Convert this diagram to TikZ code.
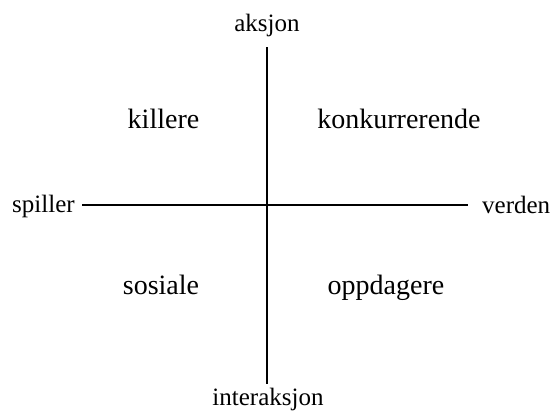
\documentclass[tikz,border=0pt]{standalone}
\usepackage{fontspec}
\setmainfont{Liberation Serif}
\begin{document}
\begin{tikzpicture}[x=1bp,y=-1bp,
  axislabel/.style={inner sep=0pt,font=\fontsize{25bp}{27bp}\selectfont},
  quadlabel/.style={inner sep=0pt,font=\fontsize{28bp}{30bp}\selectfont},
  axisline/.style={line width=1.3bp,black}]
\useasboundingbox (0,0) rectangle (553,412);
\coordinate (top) at (267,47);
\coordinate (bottom) at (267,384);
\coordinate (left) at (82,205);
\coordinate (right) at (468,205);
\draw[axisline] (top) -- (bottom);
\draw[axisline] (left) -- (right);
\node[axislabel,anchor=base] (aksjon) at (267,31) {aksjon};
\node[axislabel,anchor=base] (interaksjon) at (268,405) {interaksjon};
\node[axislabel,anchor=base west] (spiller) at (12,212) {spiller};
\node[axislabel,anchor=base west] (verden) at (482,213) {verden};
\node[quadlabel,anchor=base] (killere) at (163.5,128) {killere};
\node[quadlabel,anchor=base] (konkurrerende) at (399,128) {konkurrerende};
\node[quadlabel,anchor=base] (sosiale) at (161,294) {sosiale};
\node[quadlabel,anchor=base] (oppdagere) at (386,294) {oppdagere};
\end{tikzpicture}
\end{document}
